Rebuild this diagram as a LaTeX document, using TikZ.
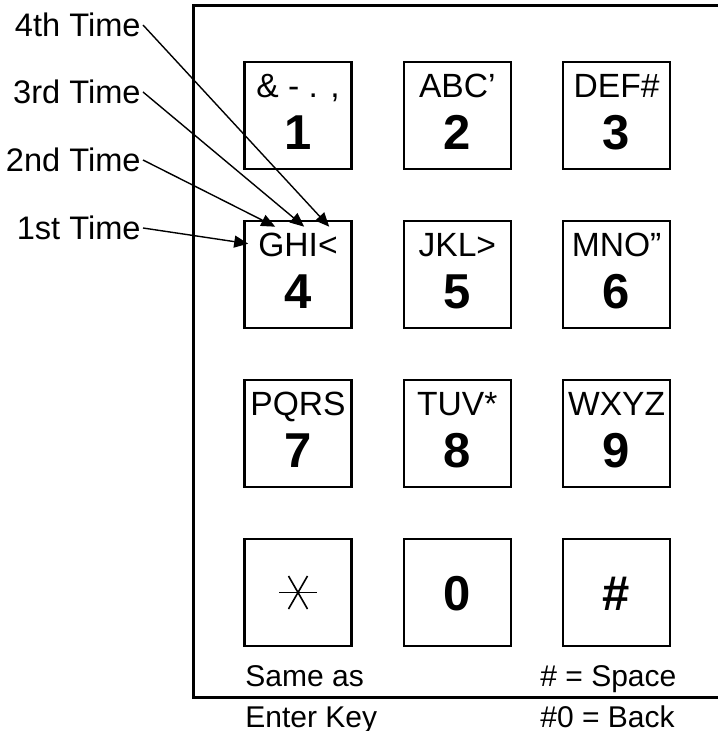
\documentclass[tikz,border=0pt]{standalone}
\usepackage{fontspec}
\setmainfont{Liberation Sans}
\usetikzlibrary{arrows.meta,calc,positioning}
\newcommand{\keyfont}{\fontsize{16.8}{19}\selectfont}
\newcommand{\digfont}{\fontsize{24.5}{28}\selectfont\bfseries}
\tikzset{
 key/.style={draw=black,line width=1.3pt,minimum size=53.5pt,inner sep=0pt},
 letters/.style={font=\keyfont,inner sep=0pt,text height=11.8pt,text depth=0pt},
 digit/.style={font=\digfont,inner sep=0pt,text height=17.5pt,text depth=0pt},
 tag/.style={font=\fontsize{16.3}{19}\selectfont,anchor=east,inner sep=1pt,text height=11.7pt,text depth=0pt},
 note/.style={font=\fontsize{15}{18}\selectfont,anchor=west,inner sep=0pt,text height=10.7pt,text depth=0pt},
 frame/.style={draw=black,line width=1.5pt},
 press/.style={-{Triangle[length=7pt,width=6pt]},line width=.7pt},
 spoke/.style={line width=.8pt},
}

\begin{document}
\begin{tikzpicture}[x=.5pt,y=-.5pt]
\useasboundingbox (0,0) rectangle (717,731);
\draw[frame] (722,6) -- (193,6) -- (193,697) -- (722,697);

% keypad
\foreach \n/\txt/\i/\j in {1/{\& - . ,}/0/0, 2/ABC’/1/0, 3/DEF\#/2/0,
                          4/GHI</0/1, 5/JKL>/1/1, 6/MNO”/2/1,
                          7/PQRS/0/2, 8/TUV*/1/2, 9/WXYZ/2/2} {
  \node[key] (k\n) at ({298+159.3*\i},{115.5+159*\j}) {};
  \node[letters] (c\n) at ($(k\n.north)+(0,25)$) {\txt};
  \node[digit] (d\n) at ($(k\n.north)+(0,71)$) {\n};
}
\node[key] (kstar) at (298,592.5) {};
\draw[spoke] ($(kstar)+(-19,0)$) -- ($(kstar)+(19,0)$);
\draw[spoke] ($(kstar)+(-9.5,-16.5)$) -- ($(kstar)+(9.5,16.5)$);
\draw[spoke] ($(kstar)+(9.5,-16.5)$) -- ($(kstar)+(-9.5,16.5)$);
\node[key] (k0) at (457.3,592.5) {};
\node[digit] (d0) at (k0) {0};
\node[key] (khash) at (616.6,592.5) {};
\node[digit] (dhash) at (khash) {\#};

% presses of key 4
\node[tag] (t4) at (143,25) {4th Time};
\node[tag] (t3) at (143,92) {3rd Time};
\node[tag] (t2) at (143,160) {2nd Time};
\node[tag] (t1) at (143,228) {1st Time};
\coordinate (p1) at ($(k4.north west)+(5,24)$);
\coordinate (p2) at ($(k4.north west)+(32,7)$);
\coordinate (p3) at ($(k4.north west)+(61,7)$);
\coordinate (p4) at ($(k4.north west)+(86,7)$);
\foreach \m in {1,...,4}
  \draw[press] (t\m.east) -- (p\m);

% notes under the keypad
\node[note] (n1) at (245,676) {Same as};
\node[note] (n2) at (245,717) {Enter Key};
\node[note] (n3) at (540,676) {\# = Space};
\node[note] (n4) at (540,717) {\#0 = Back};
\end{tikzpicture}
\end{document}
